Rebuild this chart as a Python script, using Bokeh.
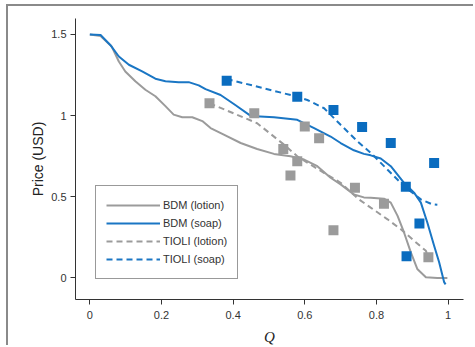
from bokeh.plotting import figure
from bokeh.models import Range1d, Legend, LegendItem, FixedTicker
from bokeh.embed import file_html
from bokeh.resources import INLINE

# ---- data ----
bdm_lotion_x = [0.0, 0.03, 0.061, 0.081, 0.099, 0.127, 0.155, 0.183, 0.211, 0.234, 0.258, 0.286, 0.314,
                0.337, 0.374, 0.421, 0.467, 0.514, 0.560, 0.598, 0.635, 0.672, 0.700, 0.737, 0.765,
                0.784, 0.821, 0.840, 0.859, 0.877, 0.896, 0.914, 0.938, 0.970, 0.998]
bdm_lotion_y = [1.5, 1.49, 1.425, 1.333, 1.272, 1.211, 1.159, 1.119, 1.058, 1.006, 0.990, 0.990, 0.966,
                0.923, 0.882, 0.831, 0.794, 0.764, 0.749, 0.729, 0.688, 0.617, 0.576, 0.514, 0.496,
                0.494, 0.488, 0.464, 0.382, 0.280, 0.157, 0.055, 0.004, 0.0, 0.0]

bdm_soap_x = [0.0, 0.03, 0.057, 0.081, 0.109, 0.146, 0.183, 0.211, 0.248, 0.276, 0.304, 0.323,
              0.365, 0.406, 0.449, 0.514, 0.579, 0.626, 0.672, 0.700, 0.737, 0.765, 0.784, 0.812,
              0.840, 0.877, 0.905, 0.924, 0.942, 0.961, 0.975, 0.989, 0.993]
bdm_soap_y = [1.5, 1.496, 1.435, 1.364, 1.313, 1.272, 1.227, 1.211, 1.206, 1.206, 1.186, 1.163,
              1.127, 1.065, 0.998, 0.990, 0.974, 0.923, 0.871, 0.831, 0.786, 0.764, 0.755, 0.736,
              0.688, 0.586, 0.525, 0.464, 0.341, 0.198, 0.096, -0.026, -0.04]

tioli_lotion_x = [0.334, 0.467, 0.542, 0.579, 0.640, 0.700, 0.751, 0.784, 0.831, 0.868, 0.905, 0.938, 0.945]
tioli_lotion_y = [1.076, 0.953, 0.821, 0.749, 0.665, 0.586, 0.484, 0.433, 0.361, 0.300, 0.229, 0.167, 0.127]

tioli_soap_x = [0.382, 0.393, 0.486, 0.579, 0.607, 0.654, 0.700, 0.747, 0.784, 0.803, 0.849, 0.877,
                0.924, 0.956, 0.970]
tioli_soap_y = [1.214, 1.219, 1.168, 1.116, 1.096, 1.045, 0.943, 0.841, 0.770, 0.729, 0.627, 0.565,
                0.484, 0.453, 0.450]

lotion_pts_x = [0.334, 0.459, 0.540, 0.560, 0.579, 0.600, 0.640, 0.680, 0.740, 0.821, 0.945]
lotion_pts_y = [1.076, 1.015, 0.794, 0.631, 0.718, 0.933, 0.861, 0.294, 0.555, 0.457, 0.127]

soap_pts_x = [0.382, 0.579, 0.680, 0.760, 0.840, 0.882, 0.884, 0.920, 0.961]
soap_pts_y = [1.214, 1.116, 1.035, 0.929, 0.831, 0.561, 0.133, 0.335, 0.708]

x_ticks = [0, 0.2, 0.4, 0.6, 0.8, 1]
x_tick_labels = {0: "0", 0.2: "0.2", 0.4: "0.4", 0.6: "0.6", 0.8: "0.8", 1: "1"}
y_ticks = [0, 0.5, 1, 1.5]
y_tick_labels = {0: "0", 0.5: "0.5", 1: "1", 1.5: "1.5"}

series_labels = ["BDM (lotion)", "BDM (soap)", "TIOLI (lotion)", "TIOLI (soap)"]

GRAY = "#9b9b9b"
BLUE = "#1a76c4"
BLUE_PT = "#0a6cbf"
FONT = "Liberation Sans"

p = figure(width=467, height=341, output_backend="svg", toolbar_location=None,
           x_range=Range1d(-0.040, 1.043), y_range=Range1d(-0.133, 1.598),
           min_border_left=67, min_border_right=12, min_border_top=12, min_border_bottom=46,
           styles={"margin-left": "6px", "margin-top": "4px",
                   "border-left": "2px solid #8a8a8a", "border-top": "2px solid #8a8a8a"})
p.outline_line_color = None
p.grid.visible = False
p.background_fill_color = "white"
p.border_fill_color = "white"

for ax in (p.xaxis[0], p.yaxis[0]):
    ax.axis_line_color = "#333333"
    ax.axis_line_width = 1
    ax.major_tick_line_color = "#333333"
    ax.major_tick_out = 5
    ax.major_tick_in = 0
    ax.minor_tick_line_color = None
    ax.major_label_text_font = FONT
    ax.major_label_text_font_size = "11px"
    ax.major_label_text_color = "#333333"
    ax.axis_label_text_color = "#222222"

p.xaxis[0].ticker = FixedTicker(ticks=x_ticks)
p.xaxis[0].major_label_overrides = x_tick_labels
p.yaxis[0].ticker = FixedTicker(ticks=y_ticks)
p.yaxis[0].major_label_overrides = y_tick_labels
p.xaxis[0].major_label_standoff = 6
p.yaxis[0].major_label_standoff = 4

p.xaxis[0].axis_label = "Q"
p.xaxis[0].axis_label_text_font = "Liberation Serif"
p.xaxis[0].axis_label_text_font_style = "italic"
p.xaxis[0].axis_label_text_font_size = "15px"
p.xaxis[0].axis_label_standoff = 7

p.yaxis[0].axis_label = "Price (USD)"
p.yaxis[0].axis_label_text_font = FONT
p.yaxis[0].axis_label_text_font_style = "normal"
p.yaxis[0].axis_label_text_font_size = "14px"
p.yaxis[0].axis_label_standoff = 2

r1 = p.line(bdm_lotion_x, bdm_lotion_y, line_color=GRAY, line_width=2, line_join="round")
r2 = p.line(bdm_soap_x, bdm_soap_y, line_color=BLUE, line_width=2, line_join="round")
r3 = p.line(tioli_lotion_x, tioli_lotion_y, line_color=GRAY, line_width=2, line_dash="6 4")
r4 = p.line(tioli_soap_x, tioli_soap_y, line_color=BLUE, line_width=2, line_dash="6 4")

p.scatter(lotion_pts_x, lotion_pts_y, marker="square", size=10, fill_color=GRAY, line_color=None)
p.scatter(soap_pts_x, soap_pts_y, marker="square", size=10, fill_color=BLUE_PT, line_color=None)

legend = Legend(items=[LegendItem(label=series_labels[i], renderers=[r])
                       for i, r in enumerate([r1, r2, r3, r4])],
                location=(20, 20))
legend.label_text_font = FONT
legend.label_text_font_size = "11px"
legend.label_text_color = "#333333"
legend.glyph_width = 54
legend.glyph_height = 18
legend.label_height = 18
legend.label_standoff = 3
legend.spacing = 0
legend.padding = 10
legend.margin = 0
legend.border_line_color = "#333333"
legend.border_line_width = 1
legend.background_fill_alpha = 1
p.add_layout(legend, "center")

open("out.html", "w").write(file_html(p, INLINE))
